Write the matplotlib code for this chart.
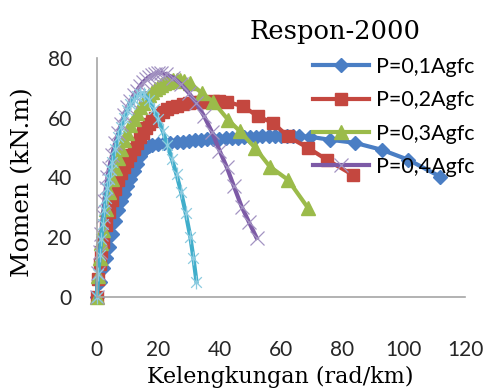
import matplotlib
matplotlib.use('Agg')
import matplotlib.pyplot as plt
from matplotlib.path import Path

plt.rcParams.update({
    'font.family': 'Lato',
    'axes.linewidth': 1.2,
})

# moment-curvature response, one series per axial load level
curv_p1 = [0, 1, 2, 3, 4, 5, 6, 7, 8, 9, 10, 11, 12, 13, 14, 15, 16, 17,
           18, 20, 22, 24, 26, 28, 30, 32, 34, 36, 38, 40, 42, 44, 46, 48,
           50, 52, 54, 56, 58, 60, 62, 64, 66, 69.5, 76, 84, 93, 101.5, 112]
mom_p1 = [0, 5, 9.5, 13, 16.5, 21, 25.5, 29, 32, 34.5, 37, 39.5, 42, 44.5,
          47, 49, 50, 50.5, 50.8, 51.1, 51.4, 51.6, 51.8, 52.0, 52.2, 52.4,
          52.6, 52.7, 52.9, 53.0, 53.1, 53.2, 53.3, 53.4, 53.5, 53.6, 53.7,
          53.7, 53.8, 53.8, 53.9, 53.9, 53.8, 53.6, 52.6, 51.6, 49.2, 45.9,
          40.2]

curv_p2 = [0, 0.5, 1, 1.5, 2, 3, 4, 5, 6, 7, 8, 9, 10, 11, 12, 13, 14, 15,
           16, 17, 18, 19, 20, 21.5, 23, 24.5, 26, 28, 30, 32, 34, 36, 38,
           40, 42.3, 47.7, 52.6, 57.4, 62.3, 68.8, 75, 83.5]
mom_p2 = [0, 6, 11, 15, 18.5, 24, 28.5, 32.5, 36, 39, 41.5, 43.5, 45.5,
          47.5, 49.5, 51.5, 53.5, 55, 56.5, 58, 59, 60, 61, 62, 62.8, 63.5,
          64, 64.5, 64.9, 65.1, 65.3, 65.4, 65.5, 65.5, 65.4, 63.8, 60.4,
          58.3, 53.7, 49.9, 45.9, 40.8]

curv_p3 = [0, 0.5, 1, 1.5, 2, 3, 4, 5, 6, 7, 8, 9, 10, 11, 12, 13, 14, 15,
           16, 17, 18, 19, 20, 21, 22, 23, 24, 25, 26, 27, 28.5, 30.4, 34.2,
           37.9, 42.8, 46.7, 51.6, 56.4, 62.3, 68.8]
mom_p3 = [0, 7, 13, 18, 22.5, 29.5, 35, 39.5, 43, 46.5, 49.5, 52.5, 55,
          57.5, 59.5, 61.5, 63.5, 65, 66.5, 67.5, 68.5, 69.5, 70.3, 71, 71.6,
          72, 72.3, 72.5, 72.6, 72.6, 72.4, 71.6, 68.3, 65.4, 59.3, 55.4,
          49.9, 43.6, 39.2, 29.8]

curv_p4 = [0, 0.5, 1, 1.5, 2, 2.5, 3, 3.5, 4, 5, 6, 7, 8, 9, 10, 11, 12,
           13, 14, 15, 16, 17, 18, 19, 20, 21, 22.5, 25, 27.5, 30, 32.5, 35,
           37.5, 40, 42.3, 44.7, 47.2, 49.6, 52.1]
mom_p4 = [0, 8, 15, 21, 27, 32, 36.5, 40, 43, 47.5, 51.5, 55, 58, 61, 63.5,
          65.5, 67.5, 69, 70.5, 71.8, 72.8, 73.7, 74.3, 74.8, 75, 75, 74.6,
          73.4, 71.2, 68.3, 64.8, 60.5, 55.3, 49, 43.6, 37, 30.2, 25, 19.7]

curv_p5 = [0, 0.5, 1, 1.5, 2, 2.5, 3, 3.5, 4, 4.5, 5, 6, 7, 8, 9, 10, 11,
           12, 13, 14, 15.5, 17, 18.5, 20, 21.5, 23, 24.5, 26, 27.5, 29,
           30.5, 31.5, 32.5]
mom_p5 = [0, 7.5, 14, 19.5, 24.5, 29, 33, 36.5, 39.5, 42.5, 45, 49.5, 53.5,
          57, 60, 62.5, 64.5, 66, 67.2, 68, 67.8, 66, 63, 59.5, 55.5, 51, 46,
          41, 35, 28, 20, 13, 5]

labels = ['P=0,1Agfc', 'P=0,2Agfc', 'P=0,3Agfc', 'P=0,4Agfc', 'P=0,5Agfc']
colors = ['#4a7ec4', '#c4473f', '#9bbb4a', '#7d5aa6', '#40aecb']

# excel-style "star": an x with a vertical bar through it
star = Path([(-1, -1), (1, 1), (-1, 1), (1, -1), (0, -1.3), (0, 1.3)],
            [Path.MOVETO, Path.LINETO, Path.MOVETO, Path.LINETO,
             Path.MOVETO, Path.LINETO])

fig = plt.figure(figsize=(4.87, 3.92), dpi=100)
ax = fig.add_axes([0.1986, 0.2431, 0.7563, 0.6089])

lw = 3.0
h1, = ax.plot(curv_p1, mom_p1, '-', color=colors[0], lw=lw, marker='D',
              ms=7, mec=colors[0], clip_on=False, label=labels[0])
h2, = ax.plot(curv_p2, mom_p2, '-', color=colors[1], lw=lw, marker='s',
              ms=9, mec=colors[1], clip_on=False, label=labels[1])
h3, = ax.plot(curv_p3, mom_p3, '-', color=colors[2], lw=lw, marker='^',
              ms=10, mec=colors[2], clip_on=False, label=labels[2])
h4, = ax.plot(curv_p4, mom_p4, '-', color=colors[3], lw=lw, marker='x',
              ms=10, mew=0.9, mec='#a393c2', clip_on=False, label=labels[3])
h5, = ax.plot(curv_p5, mom_p5, '-', color=colors[4], lw=lw, marker=star,
              ms=10, mew=0.9, mfc='none', mec='#8ccbe0', clip_on=False,
              label=labels[4])

ax.set_xlim(0, 120)
ax.set_ylim(0, 80)
ax.set_xticks(range(0, 121, 20))
ax.set_yticks(range(0, 81, 20))
ax.tick_params(length=0, labelsize=15, colors='#262626')
ax.tick_params(axis='x', pad=31)
ax.tick_params(axis='y', pad=18)
for side in ('top', 'right'):
    ax.spines[side].set_visible(False)
for side in ('left', 'bottom'):
    ax.spines[side].set_color('#a6a6a6')

# legend only lists the first four load levels
fig.legend(handles=[h1, h2, h3, h4], loc='upper left',
           bbox_to_anchor=(0.643, 0.855), bbox_transform=fig.transFigure,
           frameon=False, fontsize=15.5, handlelength=2.6, handletextpad=0.3,
           labelspacing=0.62, borderpad=0, borderaxespad=0)

fig.text(335 / 487, 1 - 39 / 392, 'Respon-2000', family='DejaVu Serif',
         fontsize=18.5, ha='center', va='baseline')
fig.text(280 / 487, 1 - 383 / 392, 'Kelengkungan (rad/km)',
         family='DejaVu Serif', fontsize=16, ha='center', va='baseline')
fig.text(23 / 487, 1 - 182 / 392, 'Momen (kN.m)', family='DejaVu Serif',
         fontsize=18, rotation=90, ha='center', va='center')

fig.savefig('out.png', dpi=100)
